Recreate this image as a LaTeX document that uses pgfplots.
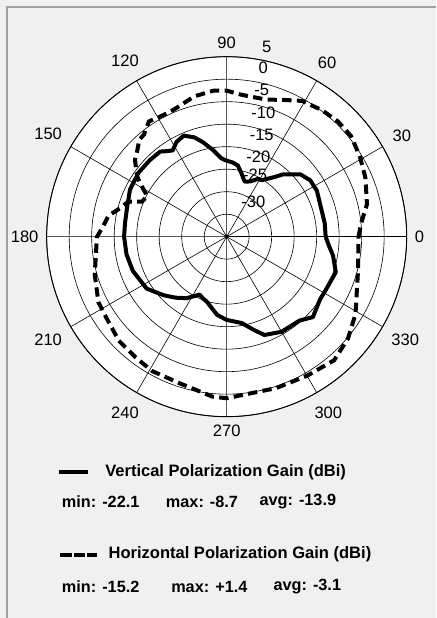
\documentclass[border=0pt]{standalone}
\usepackage{pgfplots}
\pgfplotsset{compat=1.18}
\usepgfplotslibrary{polar}
\usepackage{pgfplotstable}
\usepackage{fontspec}
\setmainfont{Liberation Sans}
\definecolor{bg}{HTML}{F0F0F0}
\definecolor{framegray}{HTML}{A0A0A0}

% gain in dBi vs azimuth (deg); radius drawn as dB+35 (inner ring = -35)
\pgfplotstableread{
ang db
0 -13.0
8 -13.0
16 -13.1
27 -12.5
34 -12.6
40 -13.5
44 -15.1
48 -16.4
51 -17.9
58 -20.2
62 -20.5
66 -21.5
70 -22.0
72 -22.1
77 -20.5
81 -19.0
85 -18.5
91 -18.0
94 -17.5
99 -15.5
104 -13.4
108 -11.8
113 -10.6
118 -11.2
122 -12.4
125 -11.8
128 -11.0
135 -10.9
144 -10.8
154 -11.1
163 -11.9
172 -12.2
180 -12.2
190 -12.4
200 -12.8
213 -13.8
223 -15.9
230 -17.3
237 -18.7
245 -20.8
249 -20.3
253 -19.9
263 -17.5
270 -16.5
280 -15.5
286 -13.5
291 -11.6
300 -10.6
311 -10.3
317 -8.8
326 -10.0
331 -10.0
342 -9.5
350 -11.0
355 -12.2
360 -13.0
}\vpol

\pgfplotstableread{
ang db
0 -5.7
6 -4.9
13 -3.0
23 -1.5
31 -0.45
39 0.55
46 0.6
53 0.2
61 -0.5
67 -2.0
74 -3.3
84 -3.3
90 -2.55
95 -2.4
103 -3.0
113 -4.45
119 -4.5
124 -4.1
129 -5.8
132 -6.0
137 -7.7
140 -8.4
146 -11.0
148 -12.2
153 -15.2
157.6 -14.6
160.4 -11.8
165 -10.5
170 -8.3
175 -7.5
180 -6.2
182 -6.1
196 -4.5
207 -3.0
214 -2.75
224 -1.7
233 -1.4
241 -0.85
252 -0.8
265 0.7
270 0.9
288 0.4
300 0.7
311 1.4
320 0.2
329 -1.6
333 -2.7
346 -4.9
360 -5.7
}\hpol

\begin{document}
\begin{tikzpicture}
\begin{scope}[x=0.75pt,y=-0.75pt]
  \fill[bg] (0,0) rectangle (436,618);
  \draw[framegray, line width=1.5pt] (7,618) -- (7,7) -- (436,7);
  \fill[white] (226.7,236.7) circle[radius=135pt];
\end{scope}

\begin{polaraxis}[
  at={(170pt,-177.5pt)}, anchor=center,
  scale only axis, width=270pt, height=270pt,
  ymin=0, ymax=40,
  xtick={0,30,...,330},
  ytick={0,5,...,40},
  yticklabels={},
  grid=major,
  major grid style={black, line width=0.45pt},
  axis line style={black, line width=0.7pt},
  tick style={draw=none},
  /pgf/number format/assume math mode=true,
  xticklabel style={font=\fontsize{12.4}{14}\selectfont, inner sep=6pt},
]
\addplot[black, line width=3pt, line join=round] table[x=ang, y expr=\thisrow{db}+35] {\vpol};
\addplot[black, line width=3pt, dash pattern=on 7pt off 4pt] table[x=ang, y expr=\thisrow{db}+35] {\hpol};
\end{polaraxis}

\begin{scope}[x=0.75pt,y=-0.75pt, every node/.style={font=\fontsize{12.4}{14}\selectfont, inner sep=0pt}]
  \node at (266.7,46.7) {5};
  \node at (263.3,68.3) {0};
  \node at (261.7,90) {-5};
  \node at (263.3,113.3) {-10};
  \node at (261.7,135) {-15};
  \node at (258.3,156.7) {-20};
  \node at (255,175) {-25};
  \node at (253.3,201.7) {-30};

  \draw[black, line width=3pt] (59.3,471.7) -- (88.3,471.7);
  \node[anchor=west, font=\fontsize{12.4}{14}\selectfont\bfseries] at (105,472) {Vertical Polarization Gain (dBi)};
  \node[anchor=west, font=\fontsize{12.2}{14}\selectfont\bfseries] at (61.7,501.7) {min: -22.1};
  \node[anchor=west, font=\fontsize{12.2}{14}\selectfont\bfseries] at (165.7,501.7) {max: -8.7};
  \node[anchor=west, font=\fontsize{12.2}{14}\selectfont\bfseries] at (259.3,501.7) {avg: -13.9};

  \draw[black, line width=3pt] (60,555) -- (71.7,555) (74,555) -- (85,555) (87.3,555) -- (97.3,555);
  \node[anchor=west, font=\fontsize{12.4}{14}\selectfont\bfseries] at (108.3,554) {Horizontal Polarization Gain (dBi)};
  \node[anchor=west, font=\fontsize{12.2}{14}\selectfont\bfseries] at (61.7,586.7) {min: -15.2};
  \node[anchor=west, font=\fontsize{12.2}{14}\selectfont\bfseries] at (171,586.7) {max: +1.4};
  \node[anchor=west, font=\fontsize{12.2}{14}\selectfont\bfseries] at (273.3,586.7) {avg: -3.1};
\end{scope}

\pgfresetboundingbox
\path[use as bounding box] (0,0) rectangle (327pt,-463.5pt);
\end{tikzpicture}
\end{document}
